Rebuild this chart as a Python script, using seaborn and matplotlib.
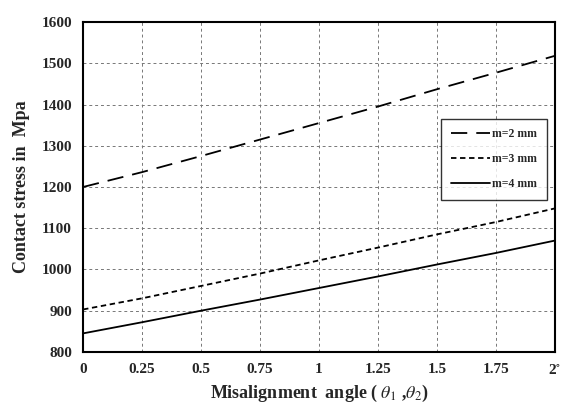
import pandas as pd
import seaborn as sns
import matplotlib.pyplot as plt

# misalignment angle (deg) and contact stress (MPa) for each module
angle = [0, 0.25, 0.5, 0.75, 1, 1.25, 1.5, 1.75, 2]
m2 = [1200, 1236, 1275, 1315, 1355, 1395, 1437, 1477, 1518]
m3 = [903, 930, 960, 990, 1022, 1053, 1085, 1115, 1148]
m4 = [845, 872, 900, 927, 955, 983, 1012, 1040, 1070]
labels = ["m=2 mm", "m=3 mm", "m=4 mm"]

df = pd.DataFrame({"angle": angle * 3,
                   "stress": m2 + m3 + m4,
                   "module": [labels[0]] * 9 + [labels[1]] * 9 + [labels[2]] * 9})

sns.set_style("white")
plt.rcParams['font.family'] = ['Liberation Serif', 'DejaVu Serif']
plt.rcParams['mathtext.fontset'] = 'stix'

fig = plt.figure(figsize=(5.69, 4.16), dpi=100)
ax = fig.add_axes([0.146, 0.154, 0.829, 0.793])

styles = {labels[0]: (0, (9, 5)), labels[1]: (0, (3, 2)), labels[2]: "-"}
for lab in labels:
    sub = df[df["module"] == lab]
    sns.lineplot(data=sub, x="angle", y="stress", ax=ax, color="black",
                 linestyle=styles[lab], linewidth=1.3, label=lab)

ax.set_xlim(0, 2)
ax.set_ylim(800, 1600)
ax.set_xticks(angle)
ax.set_xticklabels(["0", "0.25", "0.5", "0.75", "1", "1.25", "1.5", "1.75", r"2$^{\circ}$"])
ax.set_yticks(range(800, 1601, 100))
ax.grid(True, color="#777777", linestyle=(0, (3, 3)), linewidth=0.7)
for s in ax.spines.values():
    s.set_linewidth(1.5)
    s.set_color("black")
ax.tick_params(length=0, pad=8, labelsize=11)
for t in ax.get_xticklabels() + ax.get_yticklabels():
    t.set_fontweight("bold")

ax.set_xlabel(r"Misalignment  angle ( $\theta_1$ ,$\theta_2$)", fontsize=13, fontweight="bold")
ax.set_ylabel("Contact stress in  Mpa", fontsize=13, fontweight="bold", labelpad=8)

leg = ax.legend(loc="upper right", bbox_to_anchor=(0.995, 0.725), fontsize=8.5,
                frameon=True, fancybox=False, edgecolor="black", handlelength=3.3,
                labelspacing=1.1, borderpad=0.8, handletextpad=0.2)
leg.get_frame().set_linewidth(1.0)
for t in leg.get_texts():
    t.set_fontweight("bold")

plt.savefig("out.png", dpi=100)
